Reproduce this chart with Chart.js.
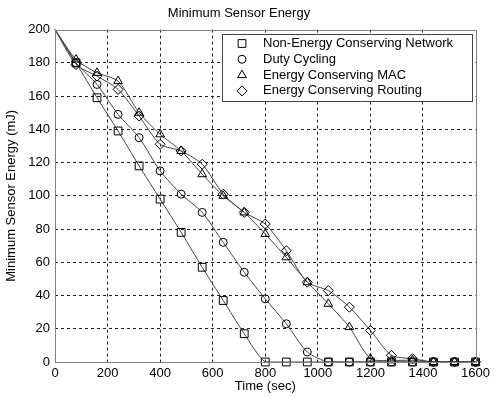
<!DOCTYPE html>
<html>
<head>
<meta charset="utf-8">
<script src="https://cdn.jsdelivr.net/npm/chart.js@4/dist/chart.umd.min.js"></script>
<style>
  body { margin: 0; background: #fff; }
  #wrap { width: 494px; height: 397px; }
</style>
</head>
<body>
<div id="wrap"><canvas id="energyChart" width="494" height="397"></canvas></div>
<script>
const times = [0, 80, 160, 240, 320, 400, 480, 560, 640, 720, 800, 880, 960, 1040, 1120, 1200, 1280, 1360, 1440, 1520, 1600];
const nonEnergy = [200, 180, 159, 139, 118, 98, 78, 57, 37, 17, 0, 0, 0, 0, 0, 0, 0, 0, 0, 0, 0];
const dutyCycling = [200, 180, 167, 149, 135, 115, 101, 90, 72, 54, 38, 23, 6, 0, 0, 0, 0, 0, 0, 0, 0];
const energyMac = [200, 182, 174, 169, 150, 137, 127, 113, 100, 90, 77, 63, 48, 35, 21, 2, 1, 1, 0, 0, 0];
const energyRouting = [200, 179, 172, 164, 148, 131, 127, 119, 101, 90, 83, 67, 48, 43, 33, 19, 4, 2, 0, 0, 0];
const xTicks = [0, 200, 400, 600, 800, 1000, 1200, 1400, 1600];
const yTicks = [0, 20, 40, 60, 80, 100, 120, 140, 160, 180, 200];

Chart.defaults.font.family = "'Liberation Sans', Arial, sans-serif";
Chart.defaults.font.size = 13;
Chart.defaults.color = '#000';

function series(label, values, style, radius) {
    return {
        label: label,
        data: times.map((t, i) => ({ x: t, y: values[i] })),
        borderColor: '#444',
        borderWidth: 1,
        tension: 0.25,
        pointStyle: style,
        pointRadius: ctx => ctx.dataIndex === 0 ? 0 : radius,
        pointBorderColor: '#000',
        pointBorderWidth: 1,
        pointBackgroundColor: 'rgba(0,0,0,0)',
        clip: false
    };
}

const edgeGrid = (lo, hi) => ctx =>
    (ctx.tick && (ctx.tick.value === lo || ctx.tick.value === hi)) ? 'rgba(0,0,0,0)' : '#222';

// axes box + legend drawn inside the plot like matlab does
const boxLegend = {
    id: 'boxLegend',
    afterDraw(chart) {
        const c = chart.ctx;
        const a = chart.chartArea;
        c.save();
        c.strokeStyle = '#808080';
        c.lineWidth = 1;
        c.strokeRect(Math.round(a.left) + 0.5, Math.round(a.top) + 0.5,
            Math.round(a.right - a.left), Math.round(a.bottom - a.top));

        const bx = 222, by = 34, bw = 250, bh = 67;
        c.fillStyle = '#fff';
        c.fillRect(bx, by, bw, bh);
        c.strokeStyle = '#444';
        c.strokeRect(bx + 0.5, by + 0.5, bw, bh);
        c.font = "13px 'Liberation Sans', Arial, sans-serif";
        c.textBaseline = 'middle';
        chart.data.datasets.forEach((ds, i) => {
            const y = by + 9.5 + i * 15.8;
            c.strokeStyle = '#000';
            c.fillStyle = '#fff';
            Chart.helpers.drawPoint(c, {
                pointStyle: ds.pointStyle,
                radius: ds.pointStyle === 'rect' ? 5.5 : (ds.pointStyle === 'circle' ? 4 : 5),
                rotation: 0,
                borderWidth: 1
            }, 242, y);
            c.fillStyle = '#000';
            c.fillText(ds.label, 263, y);
        });
        c.restore();
    }
};

const energyChart = new Chart(document.getElementById('energyChart').getContext('2d'), {
    type: 'line',
    data: {
        datasets: [
            series('Non-Energy Conserving Network', nonEnergy, 'rect', 5.5),
            series('Duty Cycling', dutyCycling, 'circle', 4),
            series('Energy Conserving MAC', energyMac, 'triangle', 5),
            series('Energy Conserving Routing', energyRouting, 'rectRot', 5)
        ]
    },
    options: {
        responsive: false,
        animation: false,
        layout: { padding: { left: 0, right: 16, top: 0, bottom: 0 } },
        plugins: {
            legend: { display: false },
            tooltip: { enabled: false },
            title: {
                display: true,
                text: 'Minimum Sensor Energy',
                font: { size: 13, weight: 'normal' },
                padding: { top: 6, bottom: 8 }
            }
        },
        scales: {
            x: {
                type: 'linear',
                min: 0,
                max: 1600,
                afterBuildTicks: s => { s.ticks = xTicks.map(v => ({ value: v })); },
                afterFit: s => { s.height = 35; },
                ticks: { padding: 4, maxRotation: 0, callback: v => String(v) },
                grid: { color: edgeGrid(0, 1600), lineWidth: 1, drawTicks: false },
                border: { display: true, width: 0, color: 'rgba(0,0,0,0)', dash: [3, 3] },
                title: { display: true, text: 'Time (sec)', padding: { top: 0, bottom: 3 } }
            },
            y: {
                min: 0,
                max: 200,
                afterBuildTicks: s => { s.ticks = yTicks.map(v => ({ value: v })); },
                afterFit: s => { s.width = 55; },
                ticks: { padding: 5, callback: v => String(v) },
                grid: { color: edgeGrid(0, 200), lineWidth: 1, drawTicks: false },
                border: { display: true, width: 0, color: 'rgba(0,0,0,0)', dash: [3, 3] },
                title: { display: true, text: 'Minimum Sensor Energy (mJ)', padding: { top: 4, bottom: 0 } }
            }
        }
    },
    plugins: [boxLegend]
});
</script>
</body>
</html>
